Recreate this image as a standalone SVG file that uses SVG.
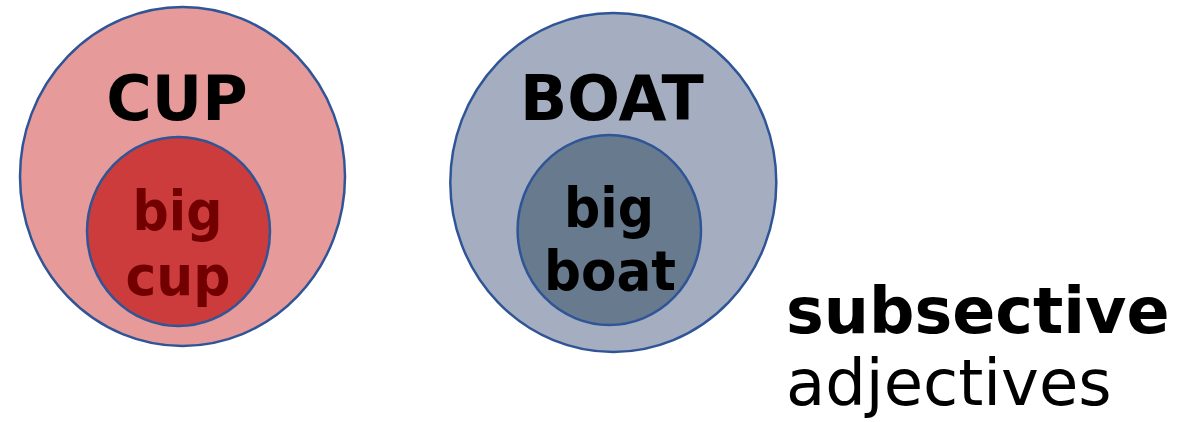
<svg xmlns="http://www.w3.org/2000/svg" width="1196" height="422" viewBox="0 0 1196 422">
<style>
.ring{stroke:#2F5597;stroke-width:2.5}
.t{font-family:"DejaVu Sans",Verdana,sans-serif;font-weight:bold;text-anchor:middle}
</style>
<rect width="1196" height="422" fill="#ffffff"/>
<g id="cup">
<ellipse class="ring" cx="182.5" cy="176.5" rx="162.5" ry="169.5" fill="#E69A9A"/>
<text class="t" x="177" y="120" font-size="62" fill="#000">CUP</text>
</g>
<g id="big-cup">
<ellipse class="ring" cx="178.5" cy="231.5" rx="91.5" ry="94.5" fill="#CC3C3C"/>
<text class="t" x="177.5" y="230" font-size="55" fill="#730000" textLength="90" lengthAdjust="spacingAndGlyphs">big</text>
<text class="t" x="178" y="295" font-size="55" fill="#730000" textLength="105" lengthAdjust="spacingAndGlyphs">cup</text>
</g>
<g id="boat">
<ellipse class="ring" cx="613.3" cy="182.5" rx="163" ry="169.5" fill="#A5AEC1"/>
<text class="t" x="612" y="120" font-size="62" fill="#000">BOAT</text>
</g>
<g id="big-boat">
<ellipse class="ring" cx="609.3" cy="230" rx="91.7" ry="95" fill="#687A8E"/>
<text class="t" x="609" y="227" font-size="55" fill="#000" textLength="90" lengthAdjust="spacingAndGlyphs">big</text>
<text class="t" x="610" y="290" font-size="55" fill="#000" textLength="132" lengthAdjust="spacingAndGlyphs">boat</text>
</g>
<g id="label">
<text x="786" y="333" font-family="DejaVu Sans,Verdana,sans-serif" font-weight="bold" font-size="63.5" fill="#000">subsective</text>
<text x="786" y="405" font-family="DejaVu Sans,Verdana,sans-serif" font-size="64" fill="#000">adjectives</text>
</g>
<g id="connectors"/>
</svg>
